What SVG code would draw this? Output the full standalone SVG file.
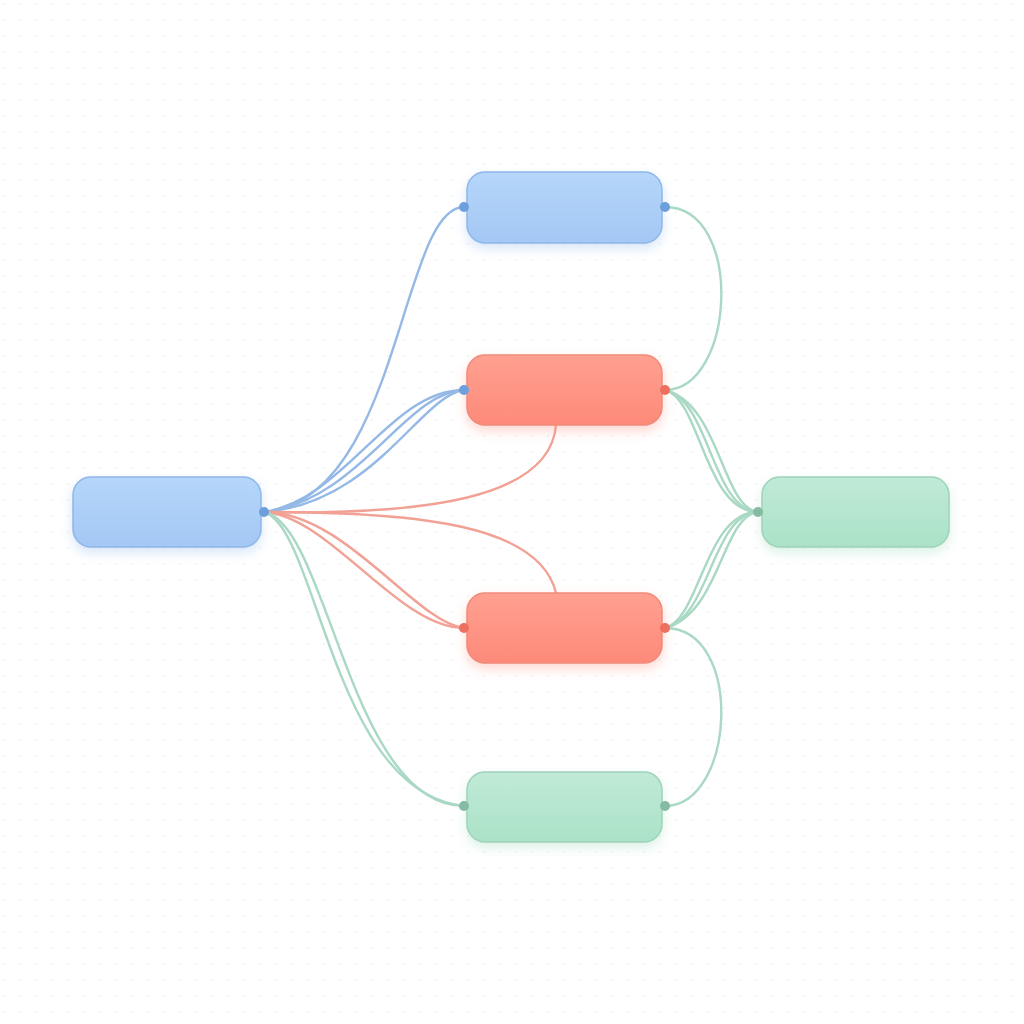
<svg xmlns="http://www.w3.org/2000/svg" width="1024" height="1024" viewBox="0 0 1024 1024">
<defs>
<pattern id="dots" x="4" y="4" width="16" height="16" patternUnits="userSpaceOnUse">
<circle cx="0" cy="0" r="1" fill="#f0f0f0"/>
<circle cx="16" cy="0" r="1" fill="#f0f0f0"/>
<circle cx="0" cy="16" r="1" fill="#f0f0f0"/>
<circle cx="16" cy="16" r="1" fill="#f0f0f0"/>
</pattern>
<linearGradient id="gBlue" x1="0" y1="0" x2="0" y2="1">
<stop offset="0" stop-color="#b6d6fa"/><stop offset="1" stop-color="#a3c8f4"/>
</linearGradient>
<linearGradient id="gRed" x1="0" y1="0" x2="0" y2="1">
<stop offset="0" stop-color="#ffa091"/><stop offset="1" stop-color="#fd8a79"/>
</linearGradient>
<linearGradient id="gGreen" x1="0" y1="0" x2="0" y2="1">
<stop offset="0" stop-color="#c0ead7"/><stop offset="1" stop-color="#abe2c7"/>
</linearGradient>
<filter id="shBlue" x="-20%" y="-40%" width="140%" height="190%"><feDropShadow dx="0" dy="5" stdDeviation="6" flood-color="#8fb8ee" flood-opacity="0.35"/></filter>
<filter id="shRed" x="-20%" y="-40%" width="140%" height="190%"><feDropShadow dx="0" dy="5" stdDeviation="6" flood-color="#ff8a78" flood-opacity="0.35"/></filter>
<filter id="shGreen" x="-20%" y="-40%" width="140%" height="190%"><feDropShadow dx="0" dy="5" stdDeviation="6" flood-color="#9ad8bb" flood-opacity="0.35"/></filter>
</defs>
<style>
.edge{fill:none;stroke-width:2.4;stroke-linecap:round}
.eb{stroke:#95b9e6}
.er{stroke:#f2a195}
.eg{stroke:#a9d9c4}
.nb{fill:url(#gBlue);stroke:#8fb7e9;stroke-width:1.5;filter:url(#shBlue)}
.nr{fill:url(#gRed);stroke:#ef8a7b;stroke-width:1.5;filter:url(#shRed)}
.ng{fill:url(#gGreen);stroke:#9fd2bb;stroke-width:1.5;filter:url(#shGreen)}
.pb{fill:#6d9fdc}
.pr{fill:#ec6f5f}
.pg{fill:#86bba3}
</style>
<rect width="1024" height="1024" fill="#ffffff"/>
<rect width="1024" height="1024" fill="url(#dots)"/>
<g id="connectors">
<path class="edge eb" d="M264,512 C400,500 400,207 464,207"/>
<path class="edge eb" d="M264,512 C345,500 390,390 464,390"/>
<path class="edge eb" d="M264,512 C360,500 405,392 464,390"/>
<path class="edge eb" d="M264,512 C375,503 420,396 464,390"/>
<path class="edge er" d="M264,512 C420,515 550,500 556,425"/>
<path class="edge er" d="M264,512 C420,512 540,525 556,593"/>
<path class="edge er" d="M264,512 C330,516 398,628 464,628"/>
<path class="edge er" d="M264,512 C345,512 415,622 464,628"/>
<path class="edge eg" d="M264,512 C318,528 332,792 464,806"/>
<path class="edge eg" d="M264,512 C328,524 350,806 464,806"/>
<path class="edge eg" d="M665,207 C745,207 735,390 665,390"/>
<path class="edge eg" d="M665,628 C745,628 735,806 665,806"/>
<path class="edge eg" d="M665,390 C700,398 705,512 758,512"/>
<path class="edge eg" d="M665,390 C710,400 712,510 758,512"/>
<path class="edge eg" d="M665,390 C720,404 722,508 758,512"/>
<path class="edge eg" d="M665,628 C700,620 705,512 758,512"/>
<path class="edge eg" d="M665,628 C710,618 712,514 758,512"/>
<path class="edge eg" d="M665,628 C720,614 722,516 758,512"/>
</g>
<g id="node-a">
<rect class="nb" x="73" y="477" width="188" height="70" rx="18"/>
<circle class="pb" cx="264" cy="512" r="5"/>
</g>
<g id="node-b">
<rect class="nb" x="467" y="172" width="195" height="71" rx="18"/>
<circle class="pb" cx="464" cy="207" r="5"/>
<circle class="pb" cx="665" cy="207" r="5"/>
</g>
<g id="node-c">
<rect class="nr" x="467" y="355" width="195" height="70" rx="18"/>
<circle class="pb" cx="464" cy="390" r="5"/>
<circle class="pr" cx="665" cy="390" r="5"/>
</g>
<g id="node-d">
<rect class="nr" x="467" y="593" width="195" height="70" rx="18"/>
<circle class="pr" cx="464" cy="628" r="5"/>
<circle class="pr" cx="665" cy="628" r="5"/>
</g>
<g id="node-e">
<rect class="ng" x="467" y="772" width="195" height="70" rx="18"/>
<circle class="pg" cx="464" cy="806" r="5"/>
<circle class="pg" cx="665" cy="806" r="5"/>
</g>
<g id="node-f">
<rect class="ng" x="762" y="477" width="187" height="70" rx="18"/>
<circle class="pg" cx="758" cy="512" r="5"/>
</g>
</svg>
